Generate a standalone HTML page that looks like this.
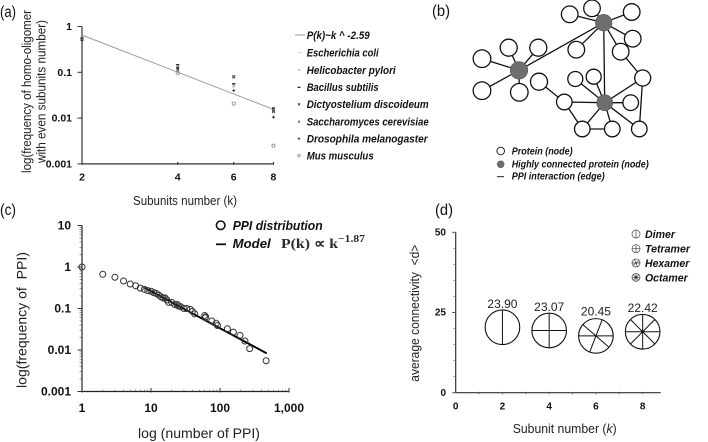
<!DOCTYPE html>
<html lang="en">
<head>
<meta charset="utf-8">
<title>Homo-oligomer and PPI distribution figure</title>
<style>
  html,body{margin:0;padding:0;background:#fff;width:708px;height:442px;overflow:hidden}
  svg{display:block;filter:blur(0.35px)}
  text{font-family:"Liberation Sans",sans-serif;fill:#2b2b2b}
  .bi{font-weight:bold;font-style:italic;font-size:11px;fill:#111}
  .tick{font-weight:bold;font-size:10.5px;fill:#111}
  .lab{font-size:12.5px;fill:#222}
  .panel{font-size:15.5px;fill:#111}
  .nw{fill:#fff;stroke:#111;stroke-width:1.3}
  .nh{fill:#6e6e6e;stroke:#555;stroke-width:.6}
  .ed{stroke:#111;stroke-width:1.3}
</style>
</head>
<body>
<svg id="fig" width="708" height="442" viewBox="0 0 708 442" xmlns="http://www.w3.org/2000/svg">
  <!-- Panel labels -->
  <text class="panel" x="0" y="17" textLength="16" lengthAdjust="spacingAndGlyphs">(a)</text>
  <text class="panel" x="432" y="16" textLength="18" lengthAdjust="spacingAndGlyphs">(b)</text>
  <text class="panel" x="0" y="215" textLength="16" lengthAdjust="spacingAndGlyphs">(c)</text>
  <text class="panel" x="435" y="215" textLength="18" lengthAdjust="spacingAndGlyphs">(d)</text>

  <!-- Panel a labels and legend -->
  <text class="lab" transform="translate(31,173) rotate(-90)" textLength="163" lengthAdjust="spacingAndGlyphs">log(frequency of homo-oligomer</text>
  <text class="lab" transform="translate(45.5,163) rotate(-90)" textLength="143" lengthAdjust="spacingAndGlyphs">with even subunits number)</text>
  <text class="lab" x="133" y="205" textLength="104" lengthAdjust="spacingAndGlyphs">Subunits number (k)</text>
  <g>
    <line x1="295" y1="35" x2="305" y2="35" stroke="#999" stroke-width="1"/>
    <text class="bi" x="306.7" y="39" textLength="63" lengthAdjust="spacingAndGlyphs">P(k)~k ^ -2.59</text>
    <text class="bi" x="306.7" y="56.5" textLength="72" lengthAdjust="spacingAndGlyphs">Escherichia coli</text>
    <text class="bi" x="306.7" y="74" textLength="89" lengthAdjust="spacingAndGlyphs">Helicobacter pylori</text>
    <text class="bi" x="306.7" y="91" textLength="72" lengthAdjust="spacingAndGlyphs">Bacillus subtilis</text>
    <text class="bi" x="306.7" y="108" textLength="122" lengthAdjust="spacingAndGlyphs">Dictyostelium discoideum</text>
    <text class="bi" x="306.7" y="125.5" textLength="122" lengthAdjust="spacingAndGlyphs">Saccharomyces cerevisiae</text>
    <text class="bi" x="306.7" y="142.5" textLength="121" lengthAdjust="spacingAndGlyphs">Drosophila melanogaster</text>
    <text class="bi" x="306.7" y="159.5" textLength="67" lengthAdjust="spacingAndGlyphs">Mus musculus</text>
    <g stroke-width="0.8" fill="none">
      <path d="M298.5 52.7h2" stroke="#aaa"/>
      <path d="M298 69l2 2m0-2l-2 2" stroke="#bbb"/>
      <path d="M297.5 87.3h3" stroke="#222" stroke-width="1.2"/>
      <path d="M298 103.3l2 2m0-2l-2 2" stroke="#333"/>
      <path d="M298 120.7l2 2m0-2l-2 2" stroke="#666"/>
      <path d="M299 137.4v2.6m-1.300-1.300h2.600" stroke="#333"/>
      <circle cx="299" cy="155.700" r="1.200" stroke="#888"/>
    </g>
  </g>

  <!-- Panel b network diagram -->
  <g>
    <g>
      <path class="ed" d="M603.7 22.700L569.700 14.300M603.700 22.700L592 8.300M603.700 22.700L631.700 12M603.700 22.700L632.700 38.700M603.700 22.700L620.700 51.700M603.700 22.700L576.300 49.700M603.700 22.700L519 70.300M603.700 22.700L604.700 102.700"/>
      <path class="ed" d="M519 70.300L508.700 47.700M519 70.300L538.300 47.700M519 70.300L482 58.700M519 70.300L482 90.700M519 70.300L519.300 92.300"/>
      <path class="ed" d="M604.700 102.700L575.300 79M604.700 102.700L593.700 76.700M604.700 102.700L630.700 102.700M604.700 102.700L582.300 129M604.700 102.700L612.300 129M604.700 102.700L639.300 129M604.700 102.700L642.700 78M604.700 102.700L564.300 102"/>
      <path class="ed" d="M539 81.700L564.300 102M564.300 102L582.300 129M582.300 129L612.300 129M620.700 51.700L642.700 78M642.700 78L639.300 129"/>
    </g>
    <g>
      <circle class="nw" cx="569.700" cy="14.300" r="8.300"/>
      <circle class="nw" cx="592" cy="8.300" r="8.300"/>
      <circle class="nw" cx="631.700" cy="12" r="8.300"/>
      <circle class="nw" cx="632.700" cy="38.700" r="8.300"/>
      <circle class="nw" cx="620.700" cy="51.700" r="8.300"/>
      <circle class="nw" cx="576.300" cy="49.700" r="8.300"/>
      <circle class="nw" cx="642.700" cy="78" r="8"/>
      <circle class="nw" cx="508.700" cy="47.700" r="8.500"/>
      <circle class="nw" cx="538.300" cy="47.700" r="8.500"/>
      <circle class="nw" cx="482" cy="58.700" r="8.800"/>
      <circle class="nw" cx="482" cy="90.700" r="8.800"/>
      <circle class="nw" cx="519.300" cy="92.300" r="8.800"/>
      <circle class="nw" cx="539" cy="81.700" r="8.500"/>
      <circle class="nw" cx="564.300" cy="102" r="7.800"/>
      <circle class="nw" cx="575.300" cy="79" r="7.500"/>
      <circle class="nw" cx="593.700" cy="76.700" r="7.500"/>
      <circle class="nw" cx="630.700" cy="102.700" r="7.800"/>
      <circle class="nw" cx="582.300" cy="129" r="7.800"/>
      <circle class="nw" cx="612.300" cy="129" r="7.800"/>
      <circle class="nw" cx="639.300" cy="129" r="7.800"/>
      <circle class="nh" cx="603.700" cy="22.700" r="8.300"/>
      <circle class="nh" cx="519" cy="70.300" r="8.800"/>
      <circle class="nh" cx="604.700" cy="102.700" r="8"/>
    </g>
    <g>
      <circle cx="500.700" cy="151" r="3.800" fill="#fff" stroke="#222" stroke-width="1"/>
      <circle cx="500.700" cy="164.300" r="3.800" fill="#6e6e6e"/>
      <line x1="497" y1="176.700" x2="504" y2="176.700" stroke="#222" stroke-width="1"/>
      <text class="bi" x="511.700" y="154.500" textLength="61" lengthAdjust="spacingAndGlyphs" style="font-size:10px">Protein (node)</text>
      <text class="bi" x="511.700" y="167.500" textLength="137" lengthAdjust="spacingAndGlyphs" style="font-size:10px">Highly connected protein (node)</text>
      <text class="bi" x="511.700" y="179.500" textLength="93" lengthAdjust="spacingAndGlyphs" style="font-size:10px">PPI interaction (edge)</text>
    </g>
  </g>

  <!-- Panel c labels and legend -->
  <text class="lab" transform="translate(26.500,388) rotate(-90)" textLength="136" lengthAdjust="spacingAndGlyphs" style="font-size:14px">log(frequency of&#160;&#160;PPI)</text>
  <text class="lab" x="138" y="438" textLength="122" lengthAdjust="spacingAndGlyphs" style="font-size:14px">log (number of PPI)</text>
  <g>
    <circle cx="220.700" cy="225.300" r="4.300" fill="none" stroke="#111" stroke-width="1.600"/>
    <text class="bi" x="232.700" y="230" textLength="90" lengthAdjust="spacingAndGlyphs" style="font-size:12.500px">PPI distribution</text>
    <line x1="216" y1="244.300" x2="226" y2="244.300" stroke="#111" stroke-width="1.800"/>
    <text class="bi" x="232.700" y="248" textLength="38" lengthAdjust="spacingAndGlyphs" style="font-size:12.500px">Model</text>
    <text x="281" y="248" textLength="57" lengthAdjust="spacingAndGlyphs" style="font-family:'Liberation Serif',serif;font-weight:bold;font-size:14px">P(k) ∝ k</text>
    <text x="338" y="242" textLength="27" lengthAdjust="spacingAndGlyphs" style="font-family:'Liberation Serif',serif;font-weight:bold;font-size:10px">−1.87</text>
  </g>

  <!-- Panel d labels and legend -->
  <text class="lab" transform="translate(419,381.700) rotate(-90)" textLength="137" lengthAdjust="spacingAndGlyphs">average connectivity&#160;&#160;&lt;d&gt;</text>
  <text class="lab" x="512.700" y="433" textLength="104" lengthAdjust="spacingAndGlyphs">Subunit number (<tspan font-style="italic">k</tspan>)</text>
  <g fill="none" stroke="#444" stroke-width=".7">
    <g><circle cx="636" cy="234" r="4"/><path d="M636 230v8"/></g>
    <g><circle cx="636" cy="248.700" r="4"/><path d="M636 244.700v8M632 248.700h8"/></g>
    <g><circle cx="636" cy="263" r="4"/><path d="M632 263h8M634.500 259.300l3 7.400M639 260.500l-6 5"/></g>
    <g><circle cx="636" cy="277.300" r="4"/><path d="M632 277.300h8M636 273.300v8M633.200 274.500l5.600 5.600M638.800 274.500l-5.600 5.600"/><circle cx="636" cy="277.300" r="1.100" fill="#222"/></g>
  </g>
  <text class="bi" x="645" y="238" textLength="30" lengthAdjust="spacingAndGlyphs">Dimer</text>
  <text class="bi" x="645" y="252.700" textLength="45" lengthAdjust="spacingAndGlyphs">Tetramer</text>
  <text class="bi" x="645" y="267" textLength="44.300" lengthAdjust="spacingAndGlyphs">Hexamer</text>
  <text class="bi" x="645" y="281.300" textLength="42.700" lengthAdjust="spacingAndGlyphs">Octamer</text>

  <g id="charts"></g>
</svg>

<script>
// ---------- Panel (a) data ----------
const aK = [2, 4, 6, 8];
const aEcoli = [0.56, 0.13, 0.085, 0.0155];
const aHpylori = [0.52, 0.115, 0.05, 0.014];
const aBacillus = [0.5, 0.146, 0.056, 0.0166];
const aDicty = [0.53, 0.124, 0.08, 0.0145];
const aSacch = [0.55, 0.11, 0.078, 0.0137];
const aDroso = [0.53, 0.125, 0.04, 0.0105];
const aMus = [0.55, 0.097, 0.0207, 0.0025];
const aFitK = [2, 8];
const aFitP = [0.65, 0.0155];
const aYTicks = [1, 0.1, 0.01, 0.001];
const aYTickLabels = ['1', '0.1', '0.01', '0.001'];

// ---------- Panel (c) data ----------
const cK = [1,2,3,4,5,6,7,8,9,10,11,12,13,14,15,16,17,18,20,22,24,25,27,30,33,37,40,43,60,61,62,76,88,92,128,156,195,230,269,466];
const cP = [1,0.667,0.565,0.46,0.39,0.354,0.31,0.29,0.27,0.26,0.24,0.23,0.21,0.19,0.18,0.18,0.16,0.14,0.14,0.125,0.125,0.115,0.11,0.1,0.1,0.095,0.085,0.074,0.068,0.06,0.063,0.05,0.044,0.039,0.0325,0.027,0.0225,0.0165,0.0108,0.0055];
const cFitK = [8, 475];
const cFitP = [0.32, 0.0083];
const cXTicks = [1, 10, 100, 1000];
const cXTickLabels = ['1', '10', '100', '1,000'];
const cYTicks = [10, 1, 0.1, 0.01, 0.001];
const cYTickLabels = ['10', '1', '0.1', '0.01', '0.001'];

// ---------- Panel (d) data ----------
const dK = [2, 4, 6, 8];
const dCenter = [20.4, 19.4, 17.7, 19.0];
const dLabels = ['23.90', '23.07', '20.45', '22.42'];
const dXTicks = [0, 2, 4, 6, 8];
const dYTicks = [0, 25, 50];

// ---------- Axis functions ----------
const ax = k => 82 + (Math.log10(k) - Math.log10(2)) * 318;
const ay = p => 26.5 - Math.log10(p) * 45.8;
const cx = k => 82 + Math.log10(k) * 69;
const cy = p => 267 - Math.log10(p) * 41.5;
const dx = k => 455.7 + k * 23.37;
const dy = v => 392.7 - v * 3.208;

const NS = 'http://www.w3.org/2000/svg';
const root = document.getElementById('charts');
function mk(tag, attrs, parent) {
  const e = document.createElementNS(NS, tag);
  for (const a in attrs) e.setAttribute(a, attrs[a]);
  (parent || root).appendChild(e);
  return e;
}

// ---------- Panel (a) ----------
const axisAColor = '#333';
{
  const el = mk('path', {d: `M82 ${ay(1)}V${ay(0.001)}H${ax(8)}`, fill: 'none', stroke: axisAColor, 'stroke-width': 1.2});
  
  
}
aYTicks.forEach((t, i) => {
  const tk = mk('line', {x1: 77.5, x2: 82, y1: ay(t), y2: ay(t), stroke: axisAColor, 'stroke-width': 1});
  
  
  const lb = mk('text', {x: 72, y: ay(t) + 3.5, 'text-anchor': 'end', class: 'tick'});
  
  
  lb.textContent = aYTickLabels[i];
});
aK.forEach(k => {
  const tk = mk('line', {x1: ax(k), x2: ax(k), y1: ay(0.001) - 2, y2: ay(0.001) + 1, stroke: axisAColor, 'stroke-width': 1});
  
  
  const lb = mk('text', {x: ax(k), y: 180.5, 'text-anchor': 'middle', class: 'tick'});
  
  
  lb.textContent = k;
});
{
  const el = mk('line', {x1: ax(aFitK[0]), y1: ay(aFitP[0]), x2: ax(aFitK[1]), y2: ay(aFitP[1]), stroke: '#a5a5a5', 'stroke-width': 1.1});
  
  
}
function markerPath(type, x, y) {
  if (type === 'dash') return `M${x - 1.5} ${y}h3`;
  if (type === 'x') return `M${x - 1.3} ${y - 1.3}l2.6 2.6m0-2.6l-2.6 2.6`;
  return `M${x} ${y - 1.5}v3m-1.5-1.500h3`;
}
aK.forEach((k, i) => {
  let el;
  el = mk('path', {d: markerPath('dash', ax(k), ay(aEcoli[i])), stroke: '#aaa', fill: 'none', 'stroke-width': 1});
  
  
  el = mk('path', {d: markerPath('x', ax(k), ay(aHpylori[i])), stroke: '#aaa', fill: 'none', 'stroke-width': 0.9});
  
  
  el = mk('path', {d: markerPath('dash', ax(k), ay(aBacillus[i])), stroke: '#111', fill: 'none', 'stroke-width': 1.4});
  
  
  el = mk('path', {d: markerPath('x', ax(k), ay(aDicty[i])), stroke: '#333', fill: 'none', 'stroke-width': 0.9});
  
  
  el = mk('path', {d: markerPath('x', ax(k), ay(aSacch[i])), stroke: '#666', fill: 'none', 'stroke-width': 0.9});
  
  
  el = mk('path', {d: markerPath('plus', ax(k), ay(aDroso[i])), stroke: '#333', fill: 'none', 'stroke-width': 0.9});
  
  
  el = mk('circle', {cx: ax(k), cy: ay(aMus[i]), r: 1.6, fill: 'none', stroke: '#888', 'stroke-width': 0.8});
  
  
});

// ---------- Panel (c) ----------
{
  const el = mk('path', {d: `M${cx(1)} ${cy(10)}V${cy(0.001)}H${cx(1000)}`, fill: 'none', stroke: '#222', 'stroke-width': 1.2});
  
  
}
cYTicks.forEach((t, i) => {
  const tk = mk('line', {x1: cx(1) - 4.5, x2: cx(1), y1: cy(t), y2: cy(t), stroke: '#333', 'stroke-width': 1});
  
  
  const lb = mk('text', {x: 71, y: cy(t) + 4, 'text-anchor': 'end', class: 'tick', style: 'font-size:12px'});
  
  
  lb.textContent = cYTickLabels[i];
  if (t > 0.001) for (let m = 2; m < 10; m++) {
    const mt = mk('line', {x1: cx(1) - 2.5, x2: cx(1), y1: cy(t / 10 * m), y2: cy(t / 10 * m), stroke: '#555', 'stroke-width': 0.6});
    
    
  }
});
cXTicks.forEach((t, i) => {
  const tk = mk('line', {x1: cx(t), x2: cx(t), y1: cy(0.001) - 3.5, y2: cy(0.001) + 1, stroke: '#333', 'stroke-width': 1});
  
  
  const lb = mk('text', {x: cx(t), y: 412, 'text-anchor': 'middle', class: 'tick', style: 'font-size:12px'});
  
  
  lb.textContent = cXTickLabels[i];
  if (t < 1000) for (let m = 2; m < 10; m++) {
    const mt = mk('line', {x1: cx(t * m), x2: cx(t * m), y1: cy(0.001) - 2, y2: cy(0.001), stroke: '#555', 'stroke-width': 0.6});
    
    
  }
});
{
  const el = mk('line', {x1: cx(cFitK[0]), y1: cy(cFitP[0]), x2: cx(cFitK[1]), y2: cy(cFitP[1]), stroke: '#000', 'stroke-width': 1.9});
  
  
}
cK.forEach((k, i) => {
  const el = mk('circle', {cx: cx(k), cy: cy(cP[i]), r: 3, fill: 'none', stroke: '#333', 'stroke-width': 1});
  
  
});

// ---------- Panel (d) ----------
{
  const el = mk('path', {d: `M${dx(0)} ${dy(50)}V${dy(0)}H660.700`, fill: 'none', stroke: '#333', 'stroke-width': 1.2});
  
  
}
for (let v = 0; v <= 50; v += 5) {
  const major = v % 25 === 0;
  const tk = mk('line', {x1: dx(0) - (major ? 3.5 : 2), x2: dx(0), y1: dy(v), y2: dy(v), stroke: '#555', 'stroke-width': major ? 1 : 0.7});
  
  
}
for (let v = 1; v <= 8; v++) {
  const tk = mk('line', {x1: dx(v), x2: dx(v), y1: dy(0) - 1, y2: dy(0) + 1.5, stroke: '#555', 'stroke-width': 0.8});
  
  
}
dYTicks.forEach(v => {
  const lb = mk('text', {x: 446, y: dy(v) + 3.2, 'text-anchor': 'end', class: 'tick', style: 'font-size:10px'});
  
  
  lb.textContent = v;
});
dXTicks.forEach(v => {
  const lb = mk('text', {x: dx(v), y: 409.5, 'text-anchor': 'middle', class: 'tick', style: 'font-size:10px'});
  
  
  lb.textContent = v;
});
const spokeAngles = [
  [90, 270],
  [0, 90, 180, 270],
  [0, 69, 139, 180, 249, 319],
  [0, 45, 90, 135, 180, 225, 270, 315]
];
const dR = 17.3;
dK.forEach((k, i) => {
  const x = dx(k), y = dy(dCenter[i]);
  const g = mk('g', {});
  
  
  mk('circle', {cx: x, cy: y, r: dR, fill: 'none', stroke: '#111', 'stroke-width': 1.1}, g);
  spokeAngles[i].forEach(a => {
    const r = a * Math.PI / 180;
    mk('line', {x1: x, y1: y, x2: x + dR * Math.cos(r), y2: y - dR * Math.sin(r), stroke: '#111', 'stroke-width': 1}, g);
  });
  if (k === 8) mk('circle', {cx: x, cy: y, r: 1.2, fill: '#111'}, g);
  const lb = mk('text', {x: x, y: y - dR - 2.2 + (k === 6 ? -1 : 0), 'text-anchor': 'middle', style: 'font-size:12px;fill:#222'});
  
  
  lb.textContent = dLabels[i];
});
</script>
</body>
</html>
